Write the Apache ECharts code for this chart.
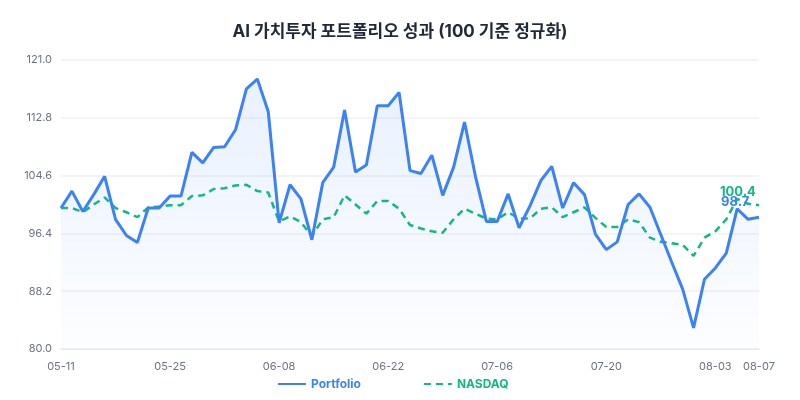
<!DOCTYPE html>
<html>
<head>
<meta charset="utf-8">
<script src="https://cdn.jsdelivr.net/npm/echarts@6/dist/echarts.min.js"></script>
<style>
  html, body { margin: 0; padding: 0; background: #fff; }
  #chart_block { width: 800px; height: 400px; }
</style>
</head>
<body>
<div id="chart_block"></div>
<script>
var dates = [
  '05-11','05-12','05-13','05-14','05-15','05-18','05-19','05-20','05-21','05-22',
  '05-25','05-26','05-27','05-28','05-29','06-01','06-02','06-03','06-04','06-05',
  '06-08','06-09','06-10','06-11','06-12','06-15','06-16','06-17','06-18','06-19',
  '06-22','06-23','06-24','06-25','06-26','06-29','06-30','07-01','07-02','07-03',
  '07-06','07-07','07-08','07-09','07-10','07-13','07-14','07-15','07-16','07-17',
  '07-20','07-21','07-22','07-23','07-24','07-27','07-28','07-29','07-30','07-31',
  '08-03','08-04','08-05','08-06','08-07'
];

var portfolio = [
  100.0, 102.4, 99.5, 101.9, 104.5, 98.4, 96.1, 95.1, 100.0, 100.0,
  101.7, 101.7, 107.9, 106.4, 108.6, 108.7, 111.1, 116.9, 118.3, 113.7,
  97.9, 103.3, 101.3, 95.5, 103.6, 105.8, 113.9, 105.1, 106.1, 114.5,
  114.5, 116.4, 105.3, 104.9, 107.5, 101.8, 105.8, 112.2, 104.5, 98.1,
  98.1, 102.0, 97.2, 100.3, 103.9, 105.9, 100.0, 103.6, 101.9, 96.3,
  94.1, 95.2, 100.5, 102.0, 100.1, 96.2, 92.3, 88.5, 83.0, 89.9,
  91.5, 93.6, 99.9, 98.4, 98.7
];

var nasdaq = [
  100.0, 100.0, 99.4, 100.5, 101.5, 100.0, 99.4, 98.7, 100.1, 100.2,
  100.4, 100.4, 101.7, 101.8, 102.7, 102.8, 103.2, 103.3, 102.4, 102.2,
  98.1, 98.8, 98.0, 96.0, 98.4, 98.7, 101.8, 100.5, 99.2, 101.0,
  101.0, 99.9, 97.6, 97.1, 96.7, 96.5, 98.4, 99.9, 99.2, 98.5,
  98.4, 99.4, 98.5, 98.5, 99.9, 100.1, 98.7, 99.4, 100.1, 98.6,
  97.3, 97.3, 98.4, 98.0, 95.8, 95.2, 95.0, 94.8, 93.2, 95.8,
  96.7, 98.4, 101.3, 100.6, 100.4
];

const blue = '#3b82f6';
const green = '#10b981';
var font = "Inter, 'Noto Sans CJK KR', sans-serif";

function end_label(color, offset) {
  return {
    show: true,
    offset: offset,
    formatter: function (p) { return Number(p.value).toFixed(1); },
    color: color,
    fontSize: 13,
    fontWeight: 'bold',
    fontFamily: font
  };
}

var myChart = echarts.init(document.getElementById('chart_block'));

var options = {
  animation: false,
  textStyle: { fontFamily: font },
  title: {
    text: 'AI 가치투자 포트폴리오 성과 (100 기준 정규화)',
    left: 'center',
    top: 18,
    textStyle: {
      fontSize: 17,
      fontWeight: 'bold',
      color: '#1f2937',
      fontFamily: font
    }
  },
  legend: {
    bottom: 5,
    left: 272,
    itemWidth: 28,
    itemHeight: 10,
    itemGap: 62,
    data: [
      { name: 'Portfolio', textStyle: { color: blue } },
      { name: 'NASDAQ', textStyle: { color: green } }
    ],
    itemStyle: { opacity: 0 },
    textStyle: {
      fontSize: 12,
      fontWeight: 'bold',
      fontFamily: font
    }
  },
  grid: {
    left: 61,
    right: 41,
    top: 60,
    bottom: 51
  },
  xAxis: {
    type: 'category',
    data: dates,
    boundaryGap: false,
    axisLine: { show: true, lineStyle: { color: '#e5e7eb' } },
    axisTick: { show: false },
    splitLine: { show: false },
    axisLabel: {
      color: '#6b7280',
      fontSize: 11,
      margin: 12,
      interval: function (i) { return i % 10 === 0 || i === dates.length - 1; }
    }
  },
  yAxis: {
    type: 'value',
    min: 80,
    max: 121,
    interval: 8.2,
    axisLine: { show: false },
    axisTick: { show: false },
    axisLabel: {
      color: '#6b7280',
      fontSize: 11,
      margin: 9,
      formatter: function (v) { return v.toFixed(1); }
    },
    splitLine: { lineStyle: { color: '#f0f1f4', width: 1.5 } }
  },
  series: [
    {
      name: 'Portfolio',
      type: 'line',
      data: portfolio,
      showSymbol: false,
      symbol: 'none',
      lineStyle: { color: blue, width: 3 },
      itemStyle: { color: blue },
      areaStyle: {
        color: new echarts.graphic.LinearGradient(0, 0, 0, 1, [
          { offset: 0, color: 'rgba(59,130,246,0.16)' },
          { offset: 1, color: 'rgba(59,130,246,0.02)' }
        ])
      },
      endLabel: end_label(blue, [-46, -15]),
      z: 3
    },
    {
      name: 'NASDAQ',
      type: 'line',
      data: nasdaq,
      showSymbol: false,
      symbol: 'none',
      lineStyle: { color: green, width: 2.5, type: [7, 5] },
      itemStyle: { color: green },
      endLabel: end_label(green, [-47, -13]),
      z: 2
    }
  ]
};

myChart.setOption(options, true);
</script>
</body>
</html>
